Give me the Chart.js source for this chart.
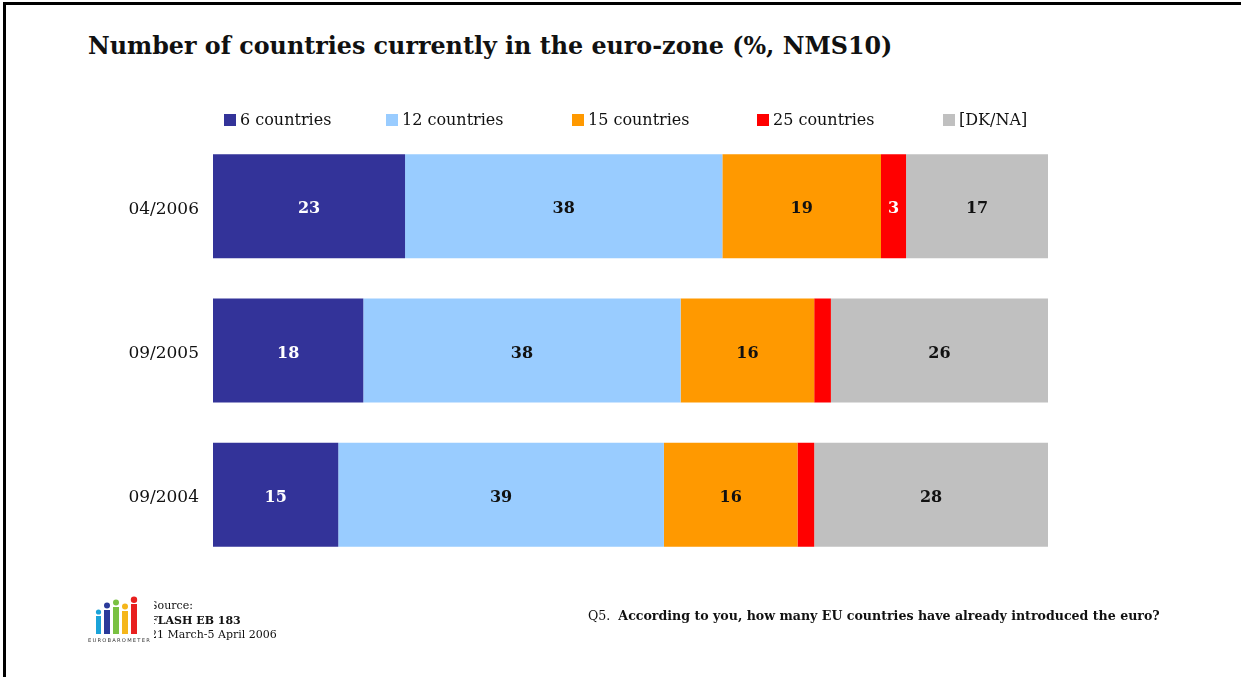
<!DOCTYPE html>
<html>
<head>
<meta charset="utf-8">
<script src="https://cdn.jsdelivr.net/npm/chart.js@4.4.1/dist/chart.umd.min.js"></script>
<style>
  html, body { margin: 0; padding: 0; background: #fff; }
  #page {
    position: relative; width: 1241px; height: 677px; overflow: hidden;
    font-family: "DejaVu Serif", "Liberation Serif", serif; color: #111;
  }
  #frame {
    position: absolute; left: 3px; top: 2px; width: 1250px; height: 700px;
    border-left: 3px solid #000; border-top: 3px solid #000;
  }
  #title {
    position: absolute; left: 88px; top: 32px; font-size: 23.8px; font-weight: bold;
    white-space: nowrap;
  }
  #chart { position: absolute; left: 0; top: 0; }
  .legend-item {
    position: absolute; top: 110px; font-size: 16px; white-space: nowrap;
    display: flex; align-items: center;
  }
  .legend-item span.box { width: 12px; height: 12px; display: inline-block; margin-right: 4px; }
  #source {
    position: absolute; left: 150px; top: 599px; font-size: 11px; line-height: 14.5px;
  }
  #logo { position: absolute; left: 86px; top: 596px; background: #fff; }
  #question { position: absolute; left: 588px; top: 608px; font-size: 12.6px; white-space: nowrap; }
</style>
</head>
<body>
<div id="page">
  <div id="frame"></div>
  <div id="title">Number of countries currently in the euro-zone (%, NMS10)</div>
  <canvas id="chart" width="1241" height="677"></canvas>
  <div id="legend"></div>
  <div id="source">Source:<br><b>FLASH EB 183</b><br>21 March-5 April 2006</div>
  <svg id="logo" width="68" height="50" viewBox="0 0 68 50">
    <rect x="10" y="20" width="5" height="18" fill="#1aa3d9"/><circle cx="12.5" cy="16" r="2.6" fill="#1aa3d9"/>
    <rect x="18" y="14" width="6" height="24" fill="#2a3a9a"/><circle cx="21" cy="9.5" r="3" fill="#2a3a9a"/>
    <rect x="27" y="11" width="6" height="27" fill="#7ac142"/><circle cx="30" cy="6.5" r="3" fill="#7ac142"/>
    <rect x="36" y="15" width="6" height="23" fill="#f5b61a"/><circle cx="39" cy="10.5" r="3" fill="#f5b61a"/>
    <rect x="45" y="8" width="6" height="30" fill="#e8201f"/><circle cx="48" cy="3.8" r="3.2" fill="#e8201f"/>
    <text x="2" y="46" font-size="5.2" font-family="DejaVu Sans" letter-spacing="1.2" fill="#333">EUROBAROMETER</text>
  </svg>
  <div id="question">Q5.&nbsp; <b>According to you, how many EU countries have already introduced the euro?</b></div>
</div>
<script>
const waves = ['04/2006', '09/2005', '09/2004'];
const answers = ['6 countries', '12 countries', '15 countries', '25 countries', '[DK/NA]'];
const sixCountries = [23, 18, 15];
const twelveCountries = [38, 38, 39];
const fifteenCountries = [19, 16, 16];
const twentyFiveCountries = [3, 2, 2];
const dontKnow = [17, 26, 28];

const barColors = ['#333399', '#99CCFF', '#FF9900', '#FF0000', '#C0C0C0'];
const labelColors = ['#ffffff', '#111111', '#111111', '#ffffff', '#111111'];
const legendLeft = [224, 386, 572, 757, 943];

const seriesValues = [sixCountries, twelveCountries, fifteenCountries, twentyFiveCountries, dontKnow];

// html legend, one entry per answer
const legendEl = document.getElementById('legend');
answers.forEach((name, i) => {
    const item = document.createElement('div');
    item.className = 'legend-item';
    item.style.left = legendLeft[i] + 'px';
    item.innerHTML = `<span class="box" style="background:${barColors[i]}"></span>${name}`;
    legendEl.appendChild(item);
});

// value labels centred in each segment, small ones left out
const segmentLabels = {
    id: 'segmentLabels',
    afterDatasetsDraw(chart) {
        const ctx = chart.ctx;
        ctx.save();
        ctx.font = 'bold 16px "DejaVu Serif", serif';
        ctx.textAlign = 'center';
        ctx.textBaseline = 'middle';
        chart.data.datasets.forEach((ds, di) => {
            const meta = chart.getDatasetMeta(di);
            meta.data.forEach((bar, i) => {
                const v = ds.data[i];
                if (v < 3) return;
                ctx.fillStyle = labelColors[di];
                ctx.fillText(String(v), (bar.x + bar.base) / 2, bar.y + 3);
            });
        });
        ctx.restore();
    }
};

new Chart(document.getElementById('chart').getContext('2d'), {
    type: 'bar',
    data: {
        labels: waves,
        datasets: answers.map((name, i) => ({
            label: name,
            data: seriesValues[i],
            backgroundColor: barColors[i],
            borderWidth: 0,
            categoryPercentage: 1,
            barPercentage: 0.72
        }))
    },
    options: {
        indexAxis: 'y',
        responsive: false,
        animation: false,
        layout: { padding: { left: 0, right: 193, top: 134, bottom: 110 } },
        scales: {
            x: { stacked: true, min: 0, max: 100, display: false },
            y: {
                stacked: true,
                grid: { display: false, drawTicks: false },
                border: { display: false },
                ticks: {
                    color: '#111',
                    padding: 14,
                    labelOffset: 3,
                    font: { family: '"DejaVu Serif", serif', size: 17 }
                },
                afterFit(scale) { scale.width = 213; }
            }
        },
        plugins: {
            legend: { display: false },
            tooltip: { enabled: false },
            title: { display: false }
        }
    },
    plugins: [segmentLabels]
});
</script>
</body>
</html>
